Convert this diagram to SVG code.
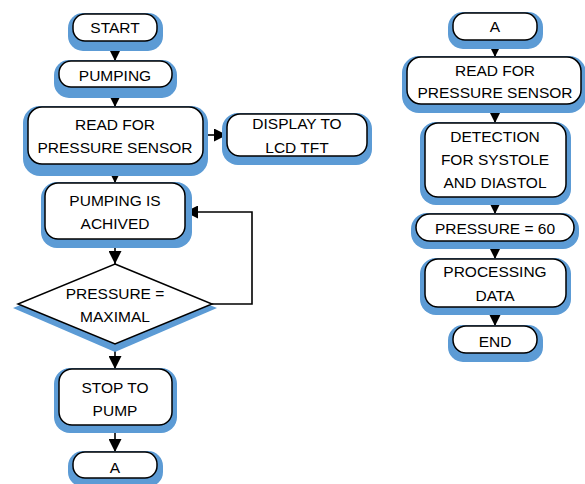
<svg xmlns="http://www.w3.org/2000/svg" width="585" height="484" viewBox="0 0 585 484">
<defs>
<style>
.sh{fill:#5B9BD5;}
.bx{fill:#fff;stroke:#000;stroke-width:1.5;}
.t{font-family:"Liberation Sans",Arial,sans-serif;font-size:15.5px;fill:#000;text-anchor:middle;}
.c{fill:none;stroke:#000;stroke-width:1.6;}
</style>
<filter id="soft" x="-10%" y="-10%" width="120%" height="130%"><feGaussianBlur stdDeviation="0.7"/></filter>
<marker id="ah" viewBox="0 0 13 13" refX="13" refY="6.5" markerWidth="13" markerHeight="13" markerUnits="userSpaceOnUse" orient="auto"><path d="M0,0L13,6.5L0,13Z" fill="#000"/></marker>
</defs>
<rect width="585" height="484" fill="#fff"/>

<g id="connectors">
<path class="c" marker-end="url(#ah)" d="M115,41V61"/>
<path class="c" marker-end="url(#ah)" d="M115,87V107"/>
<path class="c" marker-end="url(#ah)" d="M203,135H227"/>
<path class="c" marker-end="url(#ah)" d="M115,164V183"/>
<path class="c" marker-end="url(#ah)" d="M115,239V264"/>
<path class="c" marker-end="url(#ah)" d="M212,304H252V212H185"/>
<path class="c" marker-end="url(#ah)" d="M115,344V369"/>
<path class="c" marker-end="url(#ah)" d="M115,425V452"/>
<path class="c" marker-end="url(#ah)" d="M495,40V57"/>
<path class="c" marker-end="url(#ah)" d="M495,104V123"/>
<path class="c" marker-end="url(#ah)" d="M495,197V214"/>
<path class="c" marker-end="url(#ah)" d="M495,241V259"/>
<path class="c" marker-end="url(#ah)" d="M495,307V326"/>
</g>

<g id="start">
<rect class="sh" filter="url(#soft)" x="68" y="13" width="95" height="38" rx="15"/>
<rect class="bx" x="73" y="14" width="84" height="27" rx="12"/>
<text class="t" x="115" y="33">START</text>
</g>
<g id="pumping">
<rect class="sh" filter="url(#soft)" x="54" y="60" width="123" height="38" rx="15"/>
<rect class="bx" x="59" y="61" width="113" height="26" rx="12"/>
<text class="t" x="115" y="81">PUMPING</text>
</g>
<g id="read1">
<rect class="sh" filter="url(#soft)" x="23" y="106" width="185" height="70" rx="17"/>
<rect class="bx" x="28" y="107" width="175" height="57" rx="14"/>
<text class="t" x="115" y="130">READ FOR</text>
<text class="t" x="115" y="153">PRESSURE SENSOR</text>
</g>
<g id="display">
<rect class="sh" filter="url(#soft)" x="222" y="113" width="150" height="52" rx="16"/>
<rect class="bx" x="227" y="114" width="140" height="42" rx="13"/>
<text class="t" x="297" y="129">DISPLAY TO</text>
<text class="t" x="297" y="153">LCD TFT</text>
</g>
<g id="achived">
<rect class="sh" filter="url(#soft)" x="41" y="182" width="151" height="66" rx="16"/>
<rect class="bx" x="45" y="183" width="140" height="56" rx="13"/>
<text class="t" x="115" y="206">PUMPING IS</text>
<text class="t" x="115" y="229">ACHIVED</text>
</g>
<g id="decision">
<polygon class="sh" filter="url(#soft)" points="115,267 217,308 115,352 13,308"/>
<polygon class="bx" points="115,264 212,304 115,344 18,304"/>
<text class="t" x="115" y="299">PRESSURE =</text>
<text class="t" x="115" y="322">MAXIMAL</text>
</g>
<g id="stop">
<rect class="sh" filter="url(#soft)" x="54" y="368" width="123" height="65" rx="16"/>
<rect class="bx" x="59" y="369" width="113" height="56" rx="13"/>
<text class="t" x="115" y="393">STOP TO</text>
<text class="t" x="115" y="416">PUMP</text>
</g>
<g id="a1">
<rect class="sh" filter="url(#soft)" x="68" y="451" width="95" height="36" rx="15"/>
<rect class="bx" x="73" y="452" width="84" height="26" rx="12"/>
<text class="t" x="115" y="473">A</text>
</g>

<g id="a2">
<rect class="sh" filter="url(#soft)" x="448" y="12" width="95" height="37" rx="15"/>
<rect class="bx" x="453" y="13" width="84" height="27" rx="12"/>
<text class="t" x="495" y="32">A</text>
</g>
<g id="read2">
<rect class="sh" filter="url(#soft)" x="402" y="56" width="184" height="57" rx="17"/>
<rect class="bx" x="407" y="57" width="174" height="47" rx="14"/>
<text class="t" x="495" y="76">READ FOR</text>
<text class="t" x="495" y="98">PRESSURE SENSOR</text>
</g>
<g id="detection">
<rect class="sh" filter="url(#soft)" x="420" y="122" width="151" height="83" rx="16"/>
<rect class="bx" x="425" y="123" width="141" height="74" rx="13"/>
<text class="t" x="495" y="142">DETECTION</text>
<text class="t" x="495" y="165">FOR SYSTOLE</text>
<text class="t" x="495" y="188">AND DIASTOL</text>
</g>
<g id="p60">
<rect class="sh" filter="url(#soft)" x="411" y="213" width="168" height="36" rx="16"/>
<rect class="bx" x="416" y="214" width="158" height="27" rx="13.5"/>
<text class="t" x="495" y="234">PRESSURE = 60</text>
</g>
<g id="processing">
<rect class="sh" filter="url(#soft)" x="420" y="258" width="151" height="57" rx="16"/>
<rect class="bx" x="425" y="259" width="141" height="48" rx="13"/>
<text class="t" x="495" y="277">PROCESSING</text>
<text class="t" x="495" y="301">DATA</text>
</g>
<g id="end">
<rect class="sh" filter="url(#soft)" x="448" y="325" width="95" height="37" rx="15"/>
<rect class="bx" x="453" y="326" width="84" height="27" rx="13"/>
<text class="t" x="495" y="347">END</text>
</g>
</svg>
